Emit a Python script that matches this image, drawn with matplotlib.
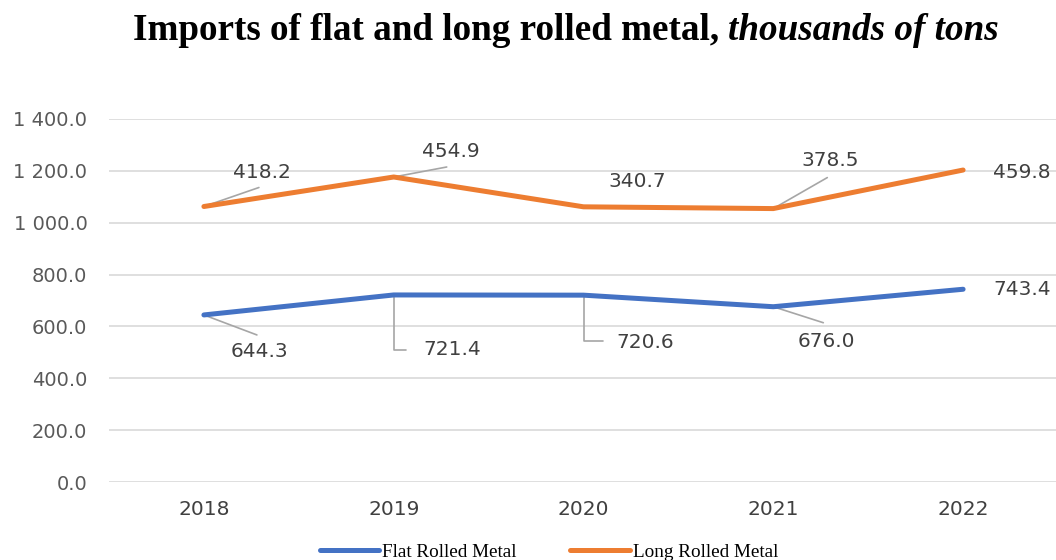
import numpy as np
import matplotlib
matplotlib.use("Agg")
import matplotlib.pyplot as plt
from matplotlib.ticker import FuncFormatter, MultipleLocator

# data
years = ["2018", "2019", "2020", "2021", "2022"]
flat = [644.3, 721.4, 720.6, 676.0, 743.4]
long_ = [418.2, 454.9, 340.7, 378.5, 459.8]

blue = "#4472C4"
orange = "#ED7D31"
lead_col = "#A6A6A6"

# stacked line: long rolled drawn on top of flat
x = np.arange(len(years))
flat_arr = np.array(flat)
stack_top = flat_arr + np.array(long_)

fig = plt.figure(figsize=(10.56, 5.6), dpi=100)
ax = fig.add_axes([109 / 1056, 1 - 482 / 560, 949 / 1056, 363 / 560])

ax.plot(x, flat_arr, color=blue, lw=3.6, solid_capstyle="round", zorder=3, label="Flat Rolled Metal")
ax.plot(x, stack_top, color=orange, lw=3.6, solid_capstyle="round", zorder=3, label="Long Rolled Metal")

ax.set_xlim(-0.5, len(years) - 0.5)
ax.set_ylim(0, 1400)
ax.yaxis.set_major_locator(MultipleLocator(200))
ax.yaxis.set_major_formatter(FuncFormatter(lambda v, p: f"{v:,.1f}".replace(",", " ")))
ax.set_xticks(x)
ax.set_xticklabels(years)
ax.grid(axis="y", color="#D9D9D9", lw=1.2)
ax.set_axisbelow(True)
for s in ax.spines.values():
    s.set_visible(False)
ax.tick_params(axis="y", length=0, pad=15.5, labelsize=14, labelcolor="#595959")
ax.tick_params(axis="x", length=0, pad=13, labelsize=14.5, labelcolor="#404040")

# label offsets in pixels: (label dx, dy, leader kind, leader dx, dy)
flat_offsets = [(56, -37, "line", 53, -20),
                (59, -55, "elbow", 12, -55),
                (62, -47, "elbow", 19, -46),
                (53, -35, "line", 50, -16),
                (59, 0, None, 0, 0)]
long_offsets = [(58, 34, "line", 55, 19),
                (57, 26, "line", 53, 10),
                (54, 25, None, 0, 0),
                (57, 48, "line", 54, 31),
                (59, -2, None, 0, 0)]


def put_labels(vals, ypos, offsets):
    for i, (v, yv, off) in enumerate(zip(vals, ypos, offsets)):
        dx, dy, kind, lx, ly = off
        ax.annotate(f"{v:.1f}", xy=(i, yv), xytext=(dx, dy), textcoords="offset pixels",
                    ha="center", va="center", fontsize=14.5, color="#404040",
                    annotation_clip=False, zorder=5)
        if kind == "line":
            ax.annotate("", xy=(i, yv), xytext=(lx, ly), textcoords="offset pixels",
                        arrowprops=dict(arrowstyle="-", color=lead_col, lw=1.2,
                                        shrinkA=0, shrinkB=0), zorder=2)
        elif kind == "elbow":
            ax.annotate("", xy=(i, yv), xytext=(lx, ly), textcoords="offset pixels",
                        arrowprops=dict(arrowstyle="-", color=lead_col, lw=1.2,
                                        shrinkA=0, shrinkB=0,
                                        connectionstyle="angle,angleA=0,angleB=90,rad=0"),
                        zorder=2)


put_labels(flat, flat_arr, flat_offsets)
put_labels(long_, stack_top, long_offsets)

# title: bold + bold italic parts, centred together
t1 = fig.text(0, 1 - 31 / 560, "Imports of flat and long rolled metal, ", fontsize=26.7,
              fontweight="bold", family="Liberation Serif", ha="left", va="center")
t2 = fig.text(0, 1 - 31 / 560, "thousands of tons", fontsize=26.7, fontweight="bold",
              fontstyle="italic", family="Liberation Serif", ha="left", va="center")
fig.canvas.draw()
r = fig.canvas.get_renderer()
w1 = t1.get_window_extent(r).width
w2 = t2.get_window_extent(r).width
x0 = 566 - (w1 + w2) / 2
t1.set_x(x0 / 1056)
t2.set_x((x0 + w1) / 1056)

fig.legend(loc="center", bbox_to_anchor=(549 / 1056, 1 - 552 / 560), ncol=2, frameon=False,
           prop={"family": "Liberation Serif", "size": 13.8},
           handlelength=3.1, handletextpad=0.15, columnspacing=2.8, borderpad=0)

fig.savefig("out.png", dpi=100)
